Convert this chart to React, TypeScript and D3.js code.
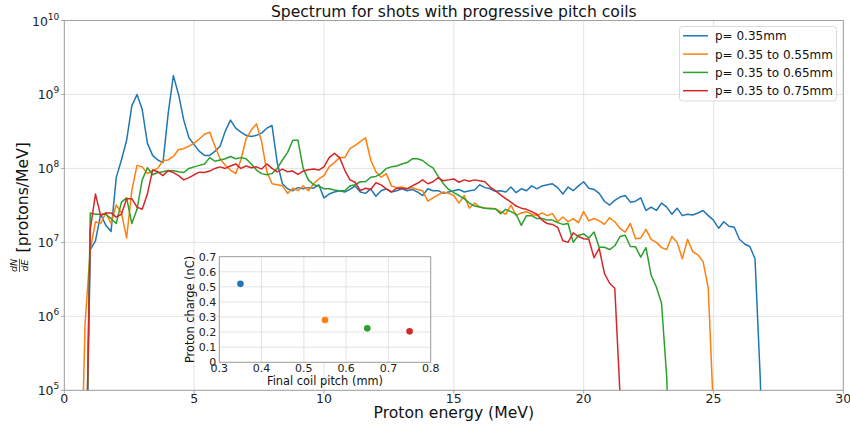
import { useEffect, useRef } from "react";
import * as d3 from "d3";

// energy grid: E_START + i * E_STEP (MeV)
const E_START = 0.6;
const E_STEP = 0.2;

// dN/dE [protons/MeV], one row = 2 MeV
const p035 = [
  1e3, 1e3, 8e6, 1.05e7, 2.4e7, 1.7e7, 1.4e7, 7.5e7, 1.3e8, 2.4e8,
  7e8, 1.0e9, 6.3e8, 2.2e8, 1.5e8, 1.3e8, 1.2e8, 5.5e8, 1.8e9, 1.0e9,
  4.5e8, 2.6e8, 2.1e8, 1.7e8, 1.5e8, 1.5e8, 1.7e8, 2.0e8, 3.2e8, 4.5e8,
  3.5e8, 3.1e8, 2.8e8, 2.7e8, 2.8e8, 3.0e8, 3.5e8, 3.8e8, 1.2e8, 6.2e7,
  5.3e7, 5.0e7, 5.5e7, 5.3e7, 5.5e7, 5.4e7, 6.0e7, 4.0e7, 4.5e7, 4.8e7,
  5.0e7, 4.8e7, 5.2e7, 5.8e7, 4.8e7, 4.6e7, 5.3e7, 4.2e7, 5.0e7, 5.3e7,
  4.8e7, 5.0e7, 5.3e7, 5.0e7, 5.2e7, 4.8e7, 4.3e7, 5.3e7, 5.0e7, 5.0e7,
  4.6e7, 4.8e7, 5.0e7, 5.2e7, 4.8e7, 5.0e7, 5.1e7, 6.0e7, 5.5e7, 5.3e7,
  4.9e7, 5.0e7, 4.8e7, 5.6e7, 4.7e7, 5.3e7, 5.0e7, 5.8e7, 5.3e7, 5.8e7,
  6.0e7, 6.2e7, 5.5e7, 4.5e7, 5.6e7, 5.0e7, 5.8e7, 6.6e7, 5.4e7, 5.2e7,
  4.6e7, 3.6e7, 3.2e7, 3.7e7, 4.1e7, 4.3e7, 3.5e7, 3.6e7, 4.0e7, 2.7e7,
  3.0e7, 2.7e7, 3.4e7, 3.0e7, 2.4e7, 2.9e7, 2.3e7, 2.4e7, 2.35e7, 2.5e7,
  2.7e7, 2.3e7, 2.0e7, 1.55e7, 1.9e7, 1.65e7, 1.6e7, 1.1e7, 9.5e6, 8.8e6,
  6e6, 1.5e5, 1e3,
];

const p055 = [
  1e3, 8e5, 8e6, 1.9e7, 1.8e7, 2.5e7, 1.8e7, 3.2e7, 2.5e7, 1.15e7,
  5e7, 1.1e8, 1.05e8, 8.5e7, 9.4e7, 1.0e8, 1.28e8, 1.3e8, 1.45e8, 1.8e8,
  1.85e8, 2.0e8, 2.2e8, 2.5e8, 2.9e8, 3.1e8, 2.0e8, 1.35e8, 1.1e8, 9.5e7,
  8.5e7, 1.3e8, 2.5e8, 3.3e8, 4.0e8, 2.3e8, 9e7, 6.2e7, 6.0e7, 5.8e7,
  4.6e7, 5.4e7, 5.0e7, 5.8e7, 5.0e7, 6.2e7, 7.2e7, 8.0e7, 1.05e8, 1.2e8,
  1.4e8, 1.4e8, 1.85e8, 2.05e8, 2.3e8, 2.6e8, 1.3e8, 9.0e7, 7.6e7, 8.5e7,
  5.8e7, 5.5e7, 5.6e7, 5.3e7, 5.5e7, 5.2e7, 5.0e7, 3.6e7, 4.0e7, 4.4e7,
  4.8e7, 4.6e7, 4.3e7, 3.4e7, 4.3e7, 2.9e7, 3.4e7, 3.0e7, 2.9e7, 2.9e7,
  2.85e7, 2.6e7, 2.4e7, 3.2e7, 2.3e7, 2.5e7, 2.6e7, 2.4e7, 2.3e7, 2.5e7,
  2.3e7, 2.45e7, 1.9e7, 2.2e7, 1.9e7, 2.1e7, 1.85e7, 2.6e7, 1.95e7, 2.1e7,
  1.95e7, 1.75e7, 2.15e7, 1.9e7, 1.55e7, 1.38e7, 1.8e7, 1.12e7, 1.15e7, 1.5e7,
  1.1e7, 1.0e7, 8.5e6, 8.0e6, 1.2e7, 1.0e7, 6.0e6, 1.1e7, 7.5e6, 6.8e6,
  5.5e6, 2.4e6, 5e4, 1e3,
];

const p065 = [
  1e3, 1e3, 2.5e7, 2.4e7, 2.4e7, 2.4e7, 2.1e7, 1.8e7, 3.5e7, 4.0e7,
  1.8e7, 2.8e7, 7e7, 1.02e8, 8.2e7, 8.8e7, 9.0e7, 9.4e7, 9.3e7, 9.0e7,
  8.8e7, 1.0e8, 1.05e8, 1.1e8, 1.15e8, 1.4e8, 1.25e8, 1.3e8, 1.35e8, 1.45e8,
  1.35e8, 1.4e8, 1.35e8, 1.15e8, 9.5e7, 8.5e7, 8.2e7, 8.5e7, 1.0e8, 1.3e8,
  1.65e8, 2.4e8, 2.4e8, 1.0e8, 7.0e7, 6.0e7, 5.8e7, 5.3e7, 5.3e7, 5.1e7,
  5.0e7, 5.0e7, 5.8e7, 6.0e7, 6.6e7, 6.6e7, 7.6e7, 7.8e7, 8.5e7, 1.0e8,
  1.05e8, 1.08e8, 1.15e8, 1.2e8, 1.35e8, 1.35e8, 1.28e8, 1.12e8, 1.02e8, 7.8e7,
  6.2e7, 5.2e7, 4.7e7, 4.3e7, 3.9e7, 3.4e7, 3.1e7, 3.0e7, 2.9e7, 2.85e7,
  2.85e7, 2.45e7, 2.8e7, 2.6e7, 2.4e7, 1.7e7, 2.3e7, 2.3e7, 2.1e7, 2.1e7,
  2.0e7, 2.0e7, 1.85e7, 1.75e7, 1.8e7, 1.0e7, 1.25e7, 1.3e7, 1.15e7, 1.38e7,
  8.6e6, 8.6e6, 8.0e6, 9.0e6, 1.2e7, 1.25e7, 8.8e6, 8.7e6, 6.3e6, 8.5e6,
  3.6e6, 2.5e6, 1.5e6, 1.5e5, 1e3,
];

const p075 = [
  1e3, 1e3, 1.5e7, 4.5e7, 2.3e7, 2.5e7, 2.5e7, 2.2e7, 2.4e7, 3.9e7,
  3.9e7, 3.0e7, 2.8e7, 4.5e7, 9.5e7, 9.0e7, 8.0e7, 9.3e7, 8.8e7, 8.0e7,
  7.0e7, 7.5e7, 8.2e7, 8.9e7, 8.8e7, 9.2e7, 1.0e8, 1.05e8, 1.0e8, 1.08e8,
  1.15e8, 1.0e8, 1.08e8, 1.02e8, 1.05e8, 9.8e7, 1.15e8, 1.0e8, 9.0e7, 9.8e7,
  9.0e7, 9.2e7, 8.3e7, 9.2e7, 9.6e7, 9.8e7, 9.5e7, 1.05e8, 1.4e8, 1.6e8,
  1.4e8, 9.5e7, 7.0e7, 6.5e7, 5.0e7, 5.4e7, 5.2e7, 6.4e7, 6.0e7, 5.3e7,
  4.8e7, 5.4e7, 5.4e7, 5.3e7, 5.8e7, 6.3e7, 7.0e7, 6.2e7, 6.6e7, 7.5e7,
  6.8e7, 7.0e7, 7.2e7, 6.5e7, 7.0e7, 6.7e7, 7.0e7, 6.8e7, 6.6e7, 5.6e7,
  5.0e7, 4.4e7, 3.9e7, 3.5e7, 3.1e7, 2.9e7, 2.8e7, 2.6e7, 2.4e7, 2.0e7,
  1.8e7, 1.75e7, 1.6e7, 1.05e7, 1.0e7, 1.35e7, 1.2e7, 1.12e7, 1.1e7, 6.2e6,
  8.3e6, 3.8e6, 2.8e6, 2.4e6, 9e4, 1e3,
];

const seriesValues = [p035, p055, p065, p075];
const seriesLabels = ["p= 0.35mm", "p= 0.35 to 0.55mm", "p= 0.35 to 0.65mm", "p= 0.35 to 0.75mm"];
const seriesColors = ["#1f77b4", "#ff7f0e", "#2ca02c", "#d62728"];

const xTicks = [0, 5, 10, 15, 20, 25, 30];
const yTickExps = [5, 6, 7, 8, 9, 10];

// inset: total proton charge vs final coil pitch
const finalPitch = [0.35, 0.55, 0.65, 0.75];
const protonCharge = [0.52, 0.28, 0.225, 0.205];
const insetXTicks = [0.3, 0.4, 0.5, 0.6, 0.7, 0.8];
const insetYTicks = [0, 0.1, 0.2, 0.3, 0.4, 0.5, 0.6, 0.7];

const W = 850;
const H = 424;
const FONT = "DejaVu Sans, sans-serif";
const GRID = "#dcdcdc";
const SPINE = "#9a9a9a";

export default function App() {
  const svgRef = useRef<SVGSVGElement>(null);

  useEffect(() => {
    if (!svgRef.current) return;
    const svg = d3.select(svgRef.current);
    svg.selectAll("*").remove();

    const L = 64.3, R = 843.3, T = 20.5, B = 390.3;
    const x = d3.scaleLinear().domain([0, 30]).range([L, R]);
    const y = d3.scaleLog().domain([1e5, 1e10]).range([B, T]);

    svg.append("rect").attr("width", W).attr("height", H).attr("fill", "#fff");

    // grid
    svg.append("g")
      .selectAll("line")
      .data(xTicks)
      .enter()
      .append("line")
      .attr("x1", (d) => x(d)).attr("x2", (d) => x(d))
      .attr("y1", T).attr("y2", B)
      .attr("stroke", GRID).attr("stroke-width", 0.8);
    svg.append("g")
      .selectAll("line")
      .data(yTickExps)
      .enter()
      .append("line")
      .attr("x1", L).attr("x2", R)
      .attr("y1", (d) => y(Math.pow(10, d))).attr("y2", (d) => y(Math.pow(10, d)))
      .attr("stroke", GRID).attr("stroke-width", 0.8);

    // curves
    svg.append("clipPath").attr("id", "plotclip")
      .append("rect").attr("x", L).attr("y", T).attr("width", R - L).attr("height", B - T);
    const linea = d3.line<number>()
      .x((_, i) => x(E_START + i * E_STEP))
      .y((d) => y(d));
    const curvas = svg.append("g").attr("clip-path", "url(#plotclip)");
    seriesValues.forEach((vals, k) => {
      curvas.append("path")
        .attr("d", linea(vals) || "")
        .attr("fill", "none")
        .attr("stroke", seriesColors[k])
        .attr("stroke-width", 1.5)
        .attr("stroke-linejoin", "round");
    });

    // spines
    svg.append("rect")
      .attr("x", L).attr("y", T).attr("width", R - L).attr("height", B - T)
      .attr("fill", "none").attr("stroke", SPINE).attr("stroke-width", 0.9);

    // x ticks
    const gx = svg.append("g");
    xTicks.forEach((t) => {
      gx.append("line").attr("x1", x(t)).attr("x2", x(t)).attr("y1", B).attr("y2", B + 3.5)
        .attr("stroke", SPINE).attr("stroke-width", 0.8);
      gx.append("text").attr("x", x(t)).attr("y", B + 12.8).attr("text-anchor", "middle")
        .attr("font-family", FONT).attr("font-size", 12.5).attr("fill", "#222").text(String(t));
    });

    // y ticks 10^n
    const gy = svg.append("g");
    yTickExps.forEach((e) => {
      const yy = y(Math.pow(10, e));
      gy.append("line").attr("x1", L - 3.5).attr("x2", L).attr("y1", yy).attr("y2", yy)
        .attr("stroke", SPINE).attr("stroke-width", 0.8);
      const t = gy.append("text").attr("x", L - 5).attr("y", yy + 5).attr("text-anchor", "end")
        .attr("font-family", FONT).attr("font-size", 12.5).attr("fill", "#222");
      t.append("tspan").text("10");
      t.append("tspan").attr("font-size", 9).attr("dy", -6).text(String(e));
    });

    // title and labels
    svg.append("text").attr("x", (L + R) / 2).attr("y", 17).attr("text-anchor", "middle")
      .attr("font-family", FONT).attr("font-size", 15.6).attr("fill", "#111")
      .text("Spectrum for shots with progressive pitch coils");
    svg.append("text").attr("x", (L + R) / 2).attr("y", 418).attr("text-anchor", "middle")
      .attr("font-family", FONT).attr("font-size", 15.6).attr("fill", "#111")
      .text("Proton energy (MeV)");

    const yl = svg.append("g").attr("transform", `translate(28,${(T + B) / 2}) rotate(-90)`)
      .attr("font-family", FONT).attr("fill", "#111");
    yl.append("text").attr("x", -60).attr("y", -11).attr("text-anchor", "middle")
      .attr("font-size", 9.5).attr("font-style", "italic").text("dN");
    yl.append("line").attr("x1", -66.5).attr("x2", -53.5).attr("y1", -8.5).attr("y2", -8.5)
      .attr("stroke", "#111").attr("stroke-width", 0.7);
    yl.append("text").attr("x", -60).attr("y", -0.5).attr("text-anchor", "middle")
      .attr("font-size", 9.5).attr("font-style", "italic").text("dE");
    yl.append("text").attr("x", -47).attr("y", 0)
      .attr("font-size", 15.6).text("[protons/MeV]");

    // legend
    const lg = svg.append("g");
    lg.append("rect").attr("x", 679.5).attr("y", 26.5).attr("width", 157).attr("height", 74.5)
      .attr("rx", 3).attr("fill", "#fff").attr("fill-opacity", 0.85)
      .attr("stroke", "#d0d0d0").attr("stroke-width", 0.8);
    seriesLabels.forEach((lab, k) => {
      const yy = 35.8 + k * 18.3;
      lg.append("line").attr("x1", 683).attr("x2", 708).attr("y1", yy).attr("y2", yy)
        .attr("stroke", seriesColors[k]).attr("stroke-width", 1.5);
      lg.append("text").attr("x", 715).attr("y", yy + 4.4)
        .attr("font-family", FONT).attr("font-size", 12).attr("fill", "#111").text(lab);
    });

    // inset
    const iL = 219.3, iR = 430.7, iT = 256.7, iB = 362.3;
    const xi = d3.scaleLinear().domain([0.3, 0.8]).range([iL, iR]);
    const yi = d3.scaleLinear().domain([0, 0.7]).range([iB, iT]);
    const gi = svg.append("g");
    gi.append("rect").attr("x", iL).attr("y", iT).attr("width", iR - iL).attr("height", iB - iT)
      .attr("fill", "#fff");
    insetXTicks.forEach((t) => {
      gi.append("line").attr("x1", xi(t)).attr("x2", xi(t)).attr("y1", iT).attr("y2", iB)
        .attr("stroke", GRID).attr("stroke-width", 0.8);
      gi.append("text").attr("x", xi(t)).attr("y", iB + 10).attr("text-anchor", "middle")
        .attr("font-family", FONT).attr("font-size", 11).attr("fill", "#222").text(t.toFixed(1));
    });
    insetYTicks.forEach((t) => {
      gi.append("line").attr("x1", iL).attr("x2", iR).attr("y1", yi(t)).attr("y2", yi(t))
        .attr("stroke", GRID).attr("stroke-width", 0.8);
      gi.append("text").attr("x", iL - 3).attr("y", yi(t) + 4).attr("text-anchor", "end")
        .attr("font-family", FONT).attr("font-size", 11).attr("fill", "#222")
        .text(t === 0 ? "0" : t.toFixed(1));
    });
    gi.append("rect").attr("x", iL).attr("y", iT).attr("width", iR - iL).attr("height", iB - iT)
      .attr("fill", "none").attr("stroke", SPINE).attr("stroke-width", 0.9);
    gi.selectAll("circle")
      .data(finalPitch)
      .enter()
      .append("circle")
      .attr("cx", (d) => xi(d))
      .attr("cy", (_, i) => yi(protonCharge[i]))
      .attr("r", 3.3)
      .attr("fill", (_, i) => seriesColors[i]);
    gi.append("text").attr("x", (iL + iR) / 2).attr("y", 385).attr("text-anchor", "middle")
      .attr("font-family", FONT).attr("font-size", 11.4).attr("fill", "#111")
      .text("Final coil pitch (mm)");
    gi.append("text").attr("transform", `translate(194,${(iT + iB) / 2}) rotate(-90)`)
      .attr("text-anchor", "middle")
      .attr("font-family", FONT).attr("font-size", 11.4).attr("fill", "#111")
      .text("Proton charge (nC)");
  }, []);

  return (
    <svg
      ref={svgRef}
      width={W}
      height={H}
      viewBox={`0 0 ${W} ${H}`}
      style={{ position: "fixed", left: 0, top: 0, display: "block" }}
    />
  );
}
